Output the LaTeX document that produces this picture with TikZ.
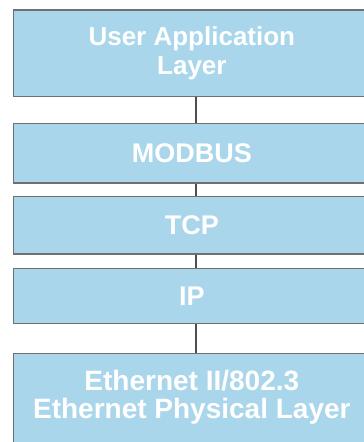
\documentclass[tikz,border=0pt]{standalone}
\usepackage{fontspec}
\setmainfont{Liberation Sans}
\usetikzlibrary{calc}
\definecolor{layerfill}{RGB}{169,214,235}
\definecolor{layerborder}{RGB}{112,112,112}
\definecolor{linkgray}{RGB}{78,78,78}
\begin{document}
\begin{tikzpicture}[x=1pt,y=1pt,
  layer/.style={draw=layerborder, line width=1.2pt, fill=layerfill, text=white,
    font=\fontsize{27}{29}\selectfont\bfseries, align=center,
    minimum width=357.5pt, inner sep=0pt, anchor=north west},
  layertext/.style={text=white, font=\fontsize{28}{28.5}\selectfont\bfseries, align=center, inner sep=0pt},
  link/.style={draw=linkgray, line width=1.8pt}]
\useasboundingbox (0,0) rectangle (364,442);
\clip (0,0) rectangle (364,442);
\node[layer, minimum height=86.5pt, font=\fontsize{26}{29.5}\selectfont\bfseries] (app) at (12.5,432.5) {User Application\\Layer};
\node[layer, minimum height=59.5pt] (modbus) at (12.5,319) {MODBUS};
\node[layer, minimum height=57.5pt] (tcp) at (12.5,246) {TCP};
\node[layer, minimum height=55pt] (ip) at (12.5,174) {IP};
\node[layer, minimum height=120pt] (eth) at (12.5,89) {};
\node[layertext] (ethtext) at ($(eth.north)+(0,-44.5)$) {Ethernet II/802.3\\Ethernet Physical Layer};
\draw[link] ($(app.south)+(3.75,0)$) -- ($(modbus.north)+(3.75,0)$);
\draw[link] ($(modbus.south)+(3.75,0)$) -- ($(tcp.north)+(3.75,0)$);
\draw[link] ($(tcp.south)+(3.75,0)$) -- ($(ip.north)+(3.75,0)$);
\draw[link] ($(ip.south)+(3.75,0)$) -- ($(eth.north)+(3.75,0)$);
\end{tikzpicture}
\end{document}
